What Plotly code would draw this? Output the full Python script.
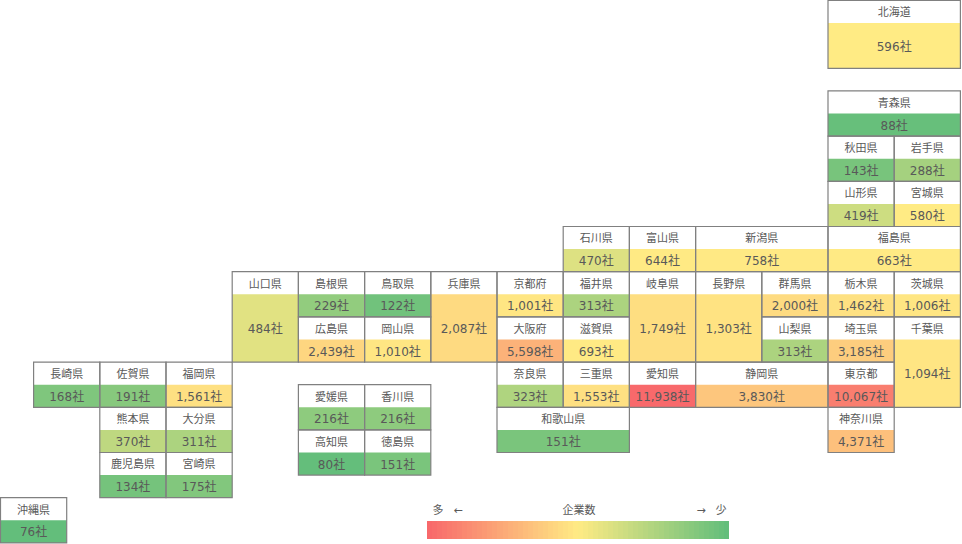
import numpy as np
import plotly.graph_objects as go

prefectures = ["北海道","青森県","秋田県","岩手県","山形県","宮城県","福島県","石川県","富山県","新潟県",
               "山口県","島根県","鳥取県","兵庫県","京都府","福井県","岐阜県","長野県","群馬県","栃木県","茨城県",
               "広島県","岡山県","大阪府","滋賀県","山梨県","埼玉県","千葉県",
               "長崎県","佐賀県","福岡県","奈良県","三重県","愛知県","静岡県","東京都",
               "愛媛県","香川県","熊本県","大分県","和歌山県","神奈川県","高知県","徳島県",
               "鹿児島県","宮崎県","沖縄県"]
companies = [596,88,143,288,419,580,663,470,644,758,
             484,229,122,2087,1001,313,1749,1303,2000,1462,1006,
             2439,1010,5598,693,313,3185,1094,
             168,191,1561,323,1553,11938,3830,10067,
             216,216,370,311,151,4371,80,151,
             134,175,76]

# tile-map placement, in grid units (one prefecture = 1 x 1)
tile_col = [12.5,12.5,12.5,13.5,12.5,13.5,12.5,8.5,9.5,10.5,
            3.5,4.5,5.5,6.5,7.5,8.5,9.5,10.5,11.5,12.5,13.5,
            4.5,5.5,7.5,8.5,11.5,12.5,13.5,
            0.5,1.5,2.5,7.5,8.5,9.5,10.5,12.5,
            4.5,5.5,1.5,2.5,7.5,12.5,4.5,5.5,
            1.5,2.5,0]
tile_row = [0,2,3,3,4,4,5,5,5,5,
            6,6,6,6,6,6,6,6,6,6,6,
            7,7,7,7,7,7,7,
            8,8,8,8,8,8,8,8,
            8.5,8.5,9,9,9,9,9.5,9.5,
            10,10,11]
tile_w = [2,2,1,1,1,1,2,1,1,2,
          1,1,1,1,1,1,1,1,1,1,1,
          1,1,1,1,1,1,1,
          1,1,1,1,1,1,2,1,
          1,1,1,1,2,1,1,1,
          1,1,1]
tile_h = [1.5,1,1,1,1,1,1,1,1,1,
          2,1,1,2,1,1,2,2,1,1,1,
          1,1,1,1,1,1,2,
          1,1,1,1,1,1,1,1,
          1,1,1,1,1,1,1,1,
          1,1,1]

legend_levels = list(range(60))
legend_labels = ["多","←","企業数","→","少"]

RED, YEL, GRN = "#F8696B", "#FFEB84", "#63BE7B"
CW, RH = 66.2, 45.2
HEAD = 0.5
TEXT_DY = 1.8 / RH
FONT = "'DejaVu Sans', 'Noto Sans CJK JP'"

col = np.array(tile_col); row = np.array(tile_row)
w = np.array(tile_w); h = np.array(tile_h)
vals = np.array(companies)

vmin, vmax, vmid = vals.min(), vals.max(), np.median(vals)
midpos = (vmid - vmin) / (vmax - vmin)

fig = go.Figure()
px = lambda x: (x - 0.5) / CW
py = lambda y: (y - 0.5) / RH

# coloured value part
fig.add_trace(go.Bar(
    x=col + w / 2, width=w, base=row + HEAD, y=h - HEAD,
    marker=dict(color=vals, cmin=vmin, cmax=vmax,
                colorscale=[[0, GRN], [midpos, YEL], [1, RED]], line_width=0),
    hoverinfo="skip", showlegend=False))
# tile outline
fig.add_trace(go.Bar(
    x=col + w / 2, width=w, base=row, y=h,
    marker=dict(color="rgba(0,0,0,0)", line=dict(color="#808080", width=1.2)),
    hoverinfo="skip", showlegend=False))
# names
fig.add_trace(go.Scatter(
    x=col + w / 2, y=row + HEAD / 2 + TEXT_DY, text=prefectures, mode="text",
    textfont=dict(family=FONT, size=11, color="#595959"),
    textposition="middle center", hoverinfo="skip", showlegend=False))
# values
fig.add_trace(go.Scatter(
    x=col + w / 2, y=row + (HEAD + h) / 2 + TEXT_DY, text=[f"{v:,}社" for v in companies], mode="text",
    textfont=dict(family=FONT, size=12, color="#595959"),
    textposition="middle center", hoverinfo="skip", showlegend=False))

# gradient legend
lx0, lx1, ly0, ly1 = px(427), px(729), py(521), py(539)
fig.add_trace(go.Heatmap(
    z=[legend_levels], x0=lx0 + (lx1 - lx0) / len(legend_levels) / 2,
    dx=(lx1 - lx0) / len(legend_levels), y0=(ly0 + ly1) / 2, dy=ly1 - ly0,
    colorscale=[[0, RED], [0.5, YEL], [1, GRN]], showscale=False, hoverinfo="skip"))
fig.add_trace(go.Scatter(
    x=[px(438), px(458), px(579), px(701), px(721)], y=[py(509) + TEXT_DY] * 5,
    text=legend_labels, mode="text",
    textfont=dict(family=FONT, size=11, color="#595959"),
    textposition="middle center", hoverinfo="skip", showlegend=False))

fig.update_layout(
    width=962, height=544, margin=dict(l=0, r=0, t=0, b=0),
    paper_bgcolor="white", plot_bgcolor="white", barmode="overlay",
    xaxis=dict(range=[px(0), px(962)], visible=False, fixedrange=True),
    yaxis=dict(range=[py(544), py(0)], visible=False, fixedrange=True),
    hovermode=False)
fig.write_html("out.html", config={"displayModeBar": False},
               post_script="document.body.style.margin='0';document.body.style.overflow='hidden';")
